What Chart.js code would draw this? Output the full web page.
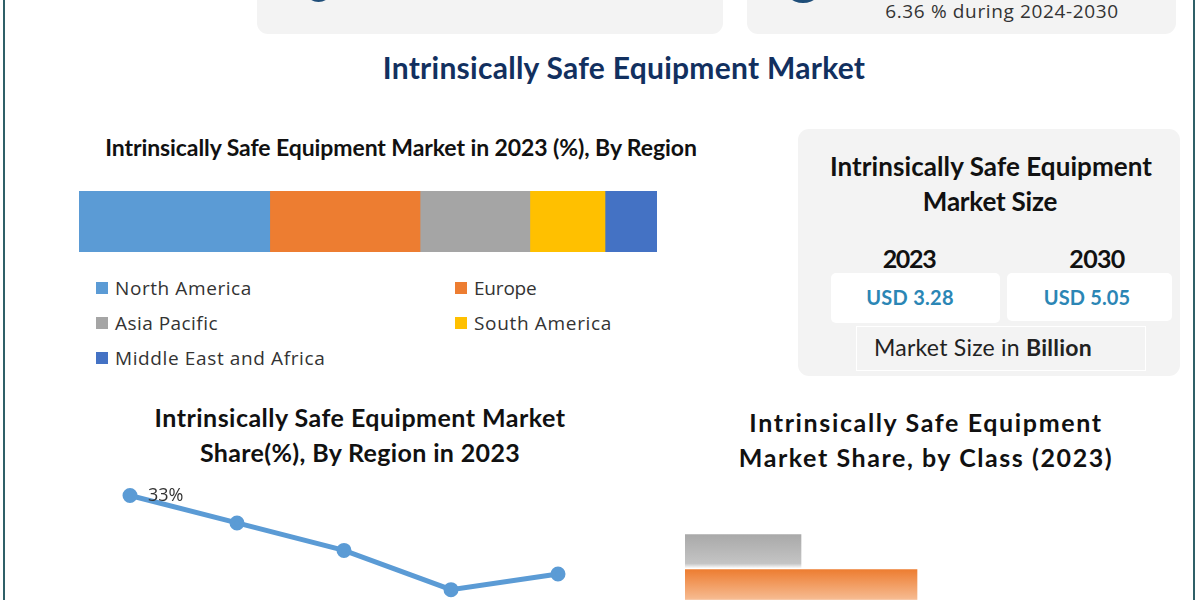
<!DOCTYPE html>
<html>
<head>
<meta charset="utf-8">
<title>Intrinsically Safe Equipment Market</title>
<script src="https://cdn.jsdelivr.net/npm/chart.js@4"></script>
<style>
html, body { margin: 0; padding: 0; background: #fff; }
#page { position: relative; width: 1200px; height: 600px; overflow: hidden; background: #fff; font-family: Lato, sans-serif; color: #111; }
#page > * { position: absolute; }
.frame { top: 0; width: 2px; height: 600px; background: #2f6068; }
.card { background: #f3f3f3; border-radius: 11px; }
.box { background: #fff; border-radius: 5px; }
.dot { background: #1f4e79; border-radius: 50%; }
.txt { white-space: nowrap; transform: translate(-50%, -50%); line-height: 1.2; }
.b { font-weight: 700; }
.sans { font-family: "Open Sans", sans-serif; color: #333; }
.legend-item { white-space: nowrap; font: 19px/1.2 "Open Sans", sans-serif; color: #333; transform: translateY(-50%); }
.swatch { width: 12px; height: 12px; transform: translateY(-50%); }
</style>
</head>
<body>
<div id="page">
  <div class="frame" style="left:3px"></div>
  <div class="frame" style="left:1193px"></div>

  <div class="card" style="left:257px;top:-40px;width:466px;height:74px"></div>
  <div class="card" style="left:747px;top:-40px;width:429px;height:74px"></div>
  <div class="dot" style="left:305px;top:-24px;width:27px;height:26px"></div>
  <div class="dot" style="left:782px;top:-39px;width:42px;height:42px"></div>
  <div class="txt sans" data-w="233" style="left:1002px;top:11px;font-size:19px;line-height:1">6.36 % during 2024-2030</div>

  <div class="txt b" data-w="482" style="left:624px;top:67px;font-size:30px;color:#12305f">Intrinsically Safe Equipment Market</div>
  <div class="txt b" data-w="592" style="left:401px;top:148px;font-size:23px">Intrinsically Safe Equipment Market in 2023 (%), By Region</div>

  <div style="left:79px;top:191px;width:578px;height:61px"><canvas id="shareBar"></canvas></div>

  <div class="card" style="left:798px;top:129px;width:382px;height:247px"></div>
  <div class="box" style="left:831px;top:273px;width:169px;height:50px"></div>
  <div class="box" style="left:1007px;top:273px;width:165px;height:48px"></div>
  <div style="left:856px;top:326px;width:288px;height:43px;border:1px solid #fff"></div>
  <div class="txt b" data-w="322" style="left:991px;top:167px;font-size:26px">Intrinsically Safe Equipment</div>
  <div class="txt b" data-w="135" style="left:990px;top:202px;font-size:26px">Market Size</div>
  <div class="txt b" data-w="54" style="left:909px;top:258px;font-size:25px">2023</div>
  <div class="txt b" data-w="56" style="left:1097px;top:258px;font-size:25px">2030</div>
  <div class="txt b" data-w="87" style="left:910px;top:297px;font-size:20px;color:#2b86b5">USD 3.28</div>
  <div class="txt b" data-w="86" style="left:1087px;top:297px;font-size:20px;color:#2b86b5">USD 5.05</div>
  <div class="txt" data-w="218" style="left:983px;top:348px;font-size:23px;color:#222">Market Size in <span class="b">Billion</span></div>

  <div class="txt b" data-w="410" style="left:360px;top:417px;font-size:25px">Intrinsically Safe Equipment Market</div>
  <div class="txt b" data-w="320" style="left:360px;top:452px;font-size:25px">Share(%), By Region in 2023</div>
  <div style="left:110px;top:458px;width:468px;height:177px"><canvas id="shareLine"></canvas></div>

  <div class="txt b" data-w="352" style="left:926px;top:422px;font-size:25px">Intrinsically Safe Equipment</div>
  <div class="txt b" data-w="373" style="left:926px;top:457px;font-size:25px">Market Share, by Class (2023)</div>
  <div style="left:685px;top:534px;width:464px;height:70px"><canvas id="classBar"></canvas></div>
</div>

<script>
var regions = ['North America', 'Europe', 'Asia Pacific', 'South America', 'Middle East and Africa'];
var regionColors = ['#5b9bd5', '#ed7d31', '#a5a5a5', '#ffc000', '#4472c4'];
var barShare = [33, 26, 19, 13, 9];
var lineShare = [33, 26, 19, 9, 13];
var lineLabels = ['33%', '', '', '', ''];
// only the top two class bars are inside the crop, their names are cut off
var classBars = ['Class A', 'Class B'];
var classShare = [20, 40];
var classColors = [['#a9a9a9', '#c4c4c4'], ['#ed7d31', '#f6b98e']];

// legend rows: x of the swatch, y of the row
var legendPos = [[96, 288], [455, 288], [96, 323], [455, 323], [96, 358]];
var legendWidth = [136, 63, 103, 137, 210];

Chart.defaults.animation = false;
Chart.defaults.responsive = true;
Chart.defaults.maintainAspectRatio = false;
Chart.defaults.plugins.legend.display = false;
Chart.defaults.plugins.tooltip.enabled = false;

var page = document.getElementById('page');
regions.forEach(function(name, i) {
    var sw = document.createElement('div');
    sw.className = 'swatch';
    sw.style.cssText = 'left:' + legendPos[i][0] + 'px;top:' + legendPos[i][1] + 'px;background:' + regionColors[i];
    page.appendChild(sw);
    var item = document.createElement('div');
    item.className = 'legend-item';
    item.textContent = name;
    item.dataset.w = legendWidth[i];
    item.style.cssText = 'left:' + (legendPos[i][0] + 19) + 'px;top:' + legendPos[i][1] + 'px';
    page.appendChild(item);
});

// stretch each text to the width it has in the picture
function fitText() {
    document.querySelectorAll('[data-w]').forEach(function(el) {
        el.style.letterSpacing = '0px';
        var n = el.textContent.length - 1;
        el.style.letterSpacing = ((el.dataset.w - el.offsetWidth) / n) + 'px';
    });
}

new Chart(document.getElementById('shareBar'), {
    type: 'bar',
    data: {
        labels: ['2023'],
        datasets: regions.map(function(name, i) {
            return { label: name, data: [barShare[i]], backgroundColor: regionColors[i], barPercentage: 1, categoryPercentage: 1 };
        })
    },
    options: {
        indexAxis: 'y',
        scales: {
            x: { stacked: true, display: false, min: 0, max: 100 },
            y: { stacked: true, display: false }
        }
    }
});

var pointLabels = {
    id: 'pointLabels',
    afterDatasetsDraw: function(chart) {
        var c = chart.ctx;
        c.save();
        c.font = '18px "Open Sans", sans-serif';
        c.fillStyle = '#333';
        c.textBaseline = 'middle';
        chart.getDatasetMeta(0).data.forEach(function(pt, i) {
            c.fillText(lineLabels[i], pt.x + 18, pt.y);
        });
        c.restore();
    }
};

new Chart(document.getElementById('shareLine'), {
    type: 'line',
    data: {
        labels: regions,
        datasets: [{
            data: lineShare,
            borderColor: '#5b9bd5',
            backgroundColor: '#5b9bd5',
            borderWidth: 5,
            pointRadius: 5,
            tension: 0
        }]
    },
    options: {
        layout: { padding: { left: 20, right: 20, top: 10, bottom: 10 } },
        scales: {
            x: { display: false },
            y: { display: false, min: 0, max: 40 }
        }
    },
    plugins: [pointLabels]
});

new Chart(document.getElementById('classBar'), {
    type: 'bar',
    data: {
        labels: classBars,
        datasets: [{
            data: classShare,
            barThickness: 34,
            backgroundColor: function(ctx) {
                var chart = ctx.chart;
                var colors = classColors[ctx.dataIndex] || classColors[0];
                if (!chart.chartArea || ctx.dataIndex === undefined) return colors[0];
                var mid = chart.scales.y.getPixelForValue(ctx.dataIndex);
                if (!isFinite(mid)) return colors[0];
                var g = chart.ctx.createLinearGradient(0, mid - 17, 0, mid + 17);
                g.addColorStop(0, colors[0]);
                g.addColorStop(0.85, colors[1]);
                g.addColorStop(1, '#fff');
                return g;
            }
        }]
    },
    options: {
        indexAxis: 'y',
        scales: {
            x: { display: false, min: 0, max: 80 },
            y: { display: false }
        }
    }
});

document.fonts.ready.then(fitText);
fitText();
</script>
</body>
</html>
